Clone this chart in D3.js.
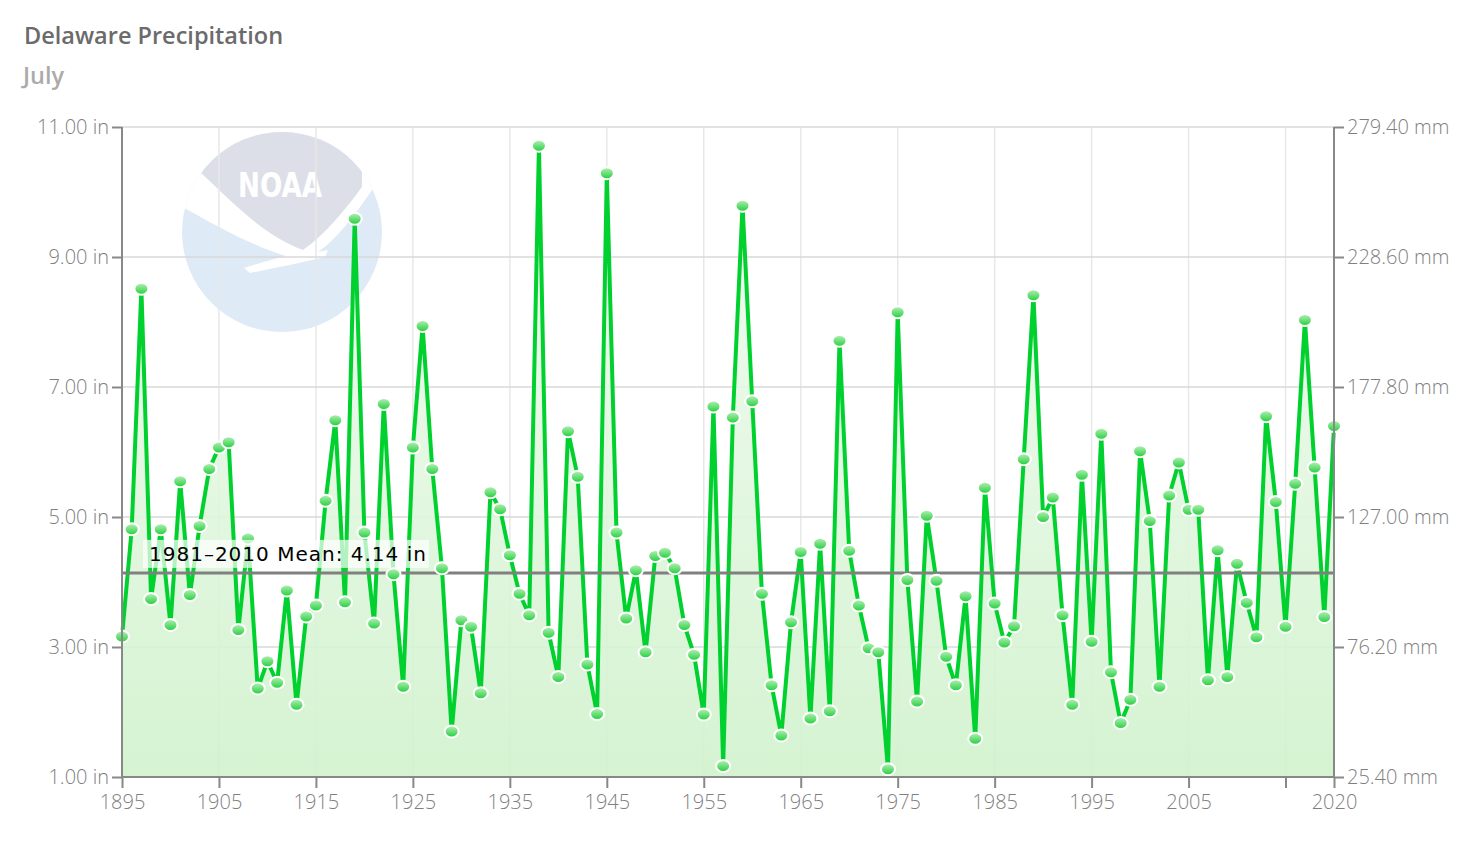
<!DOCTYPE html>
<html>
<head>
<meta charset="utf-8">
<script src="https://cdn.jsdelivr.net/npm/d3@7"></script>
<style>
  body { margin: 0; background: #fff; }
  svg { display: block; }
</style>
</head>
<body>
<div id="chart"></div>
<script>
// --- Delaware Precipitation, July ---
const firstYear = 1895;
const precip = [
    3.16, 4.81, 8.51, 3.74, 4.81, 3.34, 5.55, 3.80, 4.86, 5.74,
    6.07, 6.15, 3.26, 4.67, 2.36, 2.78, 2.45, 3.87, 2.11, 3.47,
    3.64, 5.25, 6.49, 3.69, 9.59, 4.76, 3.36, 6.74, 4.12, 2.39,
    6.07, 7.94, 5.74, 4.21, 1.70, 3.41, 3.31, 2.29, 5.38, 5.12,
    4.41, 3.82, 3.49, 10.71, 3.22, 2.54, 6.32, 5.62, 2.73, 1.97,
    10.29, 4.76, 3.44, 4.18, 2.92, 4.40, 4.45, 4.21, 3.34, 2.88,
    1.96, 6.70, 1.17, 6.53, 9.79, 6.78, 3.82, 2.41, 1.64, 3.38,
    4.46, 1.90, 4.59, 2.01, 7.71, 4.48, 3.64, 2.98, 2.92, 1.12,
    8.15, 4.03, 2.16, 5.02, 4.02, 2.85, 2.41, 3.78, 1.59, 5.45,
    3.67, 3.07, 3.32, 5.89, 8.41, 5.00, 5.30, 3.49, 2.11, 5.65,
    3.08, 6.28, 2.61, 1.83, 2.19, 6.01, 4.94, 2.39, 5.33, 5.84,
    5.11, 5.11, 2.49, 4.49, 2.54, 4.28, 3.68, 3.15, 6.55, 5.23,
    3.31, 5.51, 8.03, 5.76, 3.46, 6.40
];
const meanValue = 4.14;
const meanLabel = "1981\u20132010 Mean: 4.14 in";
const yTicks = [1, 3, 5, 7, 9, 11];
const xTicks = [1895, 1905, 1915, 1925, 1935, 1945, 1955, 1965, 1975, 1985, 1995, 2005, 2015, 2020];
const xTickLabels = ["1895", "1905", "1915", "1925", "1935", "1945", "1955", "1965", "1975", "1985", "1995", "2005", "", "2020"];
const mmPerInch = 25.4;

const data = precip.map((v, i) => ({ year: firstYear + i, value: v }));

const margin = { top: 127, right: 146, bottom: 85, left: 122 },
    fullW = 1480, fullH = 862,
    width = fullW - margin.left - margin.right,
    height = fullH - margin.top - margin.bottom;

const svg = d3.select("#chart")
    .append("svg")
    .attr("width", fullW)
    .attr("height", fullH);

const defs = svg.append("defs");

const areaGrad = defs.append("linearGradient")
    .attr("id", "areaGrad")
    .attr("gradientUnits", "userSpaceOnUse")
    .attr("x1", 0).attr("y1", 0).attr("x2", 0).attr("y2", height);
areaGrad.append("stop").attr("offset", "0%").attr("stop-color", "#f4fcf4");
areaGrad.append("stop").attr("offset", "100%").attr("stop-color", "#d0f2cc");

const dotGrad = defs.append("linearGradient")
    .attr("id", "dotGrad")
    .attr("x1", 0).attr("y1", 0).attr("x2", 0).attr("y2", 1);
dotGrad.append("stop").attr("offset", "0%").attr("stop-color", "#b8f0b8");
dotGrad.append("stop").attr("offset", "100%").attr("stop-color", "#1fcf3a");

defs.append("clipPath").attr("id", "logoClip")
    .append("circle").attr("cx", 282).attr("cy", 232).attr("r", 100);

// titles
svg.append("text")
    .attr("x", 24).attr("y", 44)
    .attr("font-family", "Open Sans")
    .attr("font-weight", 600)
    .attr("font-size", 23.5)
    .attr("fill", "#6b6b6b")
    .text("Delaware Precipitation");

svg.append("text")
    .attr("x", 23).attr("y", 84)
    .attr("font-family", "Open Sans")
    .attr("font-weight", 600)
    .attr("font-size", 23.5)
    .attr("fill", "#ababab")
    .text("July");

// NOAA watermark
const logo = svg.append("g");
logo.append("circle").attr("cx", 282).attr("cy", 232).attr("r", 100).attr("fill", "#deebf7");
const logoInner = logo.append("g").attr("clip-path", "url(#logoClip)");
logoInner.append("path")
    .attr("fill", "#dddfe8")
    .attr("d", "M170,120 H400 V165 H362 V187 C345,210 325,235 303,250 C262,235 228,198 200,172 H170 Z");
logoInner.append("path")
    .attr("fill", "#ffffff")
    .attr("d", "M170,172 H200 C228,198 262,235 303,250 C325,235 345,210 362,187 V165 H400 V190 H372 C355,215 336,240 318,252 L328,250 L325,257 C300,263 275,268 250,273 L244,268 C262,262 275,259 286,256 C250,245 215,225 170,200 Z");
logo.append("text")
    .attr("x", 280).attr("y", 197)
    .attr("text-anchor", "middle")
    .attr("font-family", "DejaVu Sans Condensed")
    .attr("font-weight", "bold")
    .attr("font-size", 34)
    .attr("textLength", 84)
    .attr("lengthAdjust", "spacingAndGlyphs")
    .attr("fill", "#ffffff")
    .text("NOAA");

const g = svg.append("g")
    .attr("transform", `translate(${margin.left},${margin.top})`);

const x = d3.scaleLinear().domain([1895, 2020]).range([0, width]);
const y = d3.scaleLinear().domain([1, 11]).range([height, 0]);
const yMm = d3.scaleLinear().domain([1 * mmPerInch, 11 * mmPerInch]).range([height, 0]);

// grid
g.append("g")
    .selectAll("line")
    .data(xTicks)
    .join("line")
    .attr("x1", d => x(d)).attr("x2", d => x(d))
    .attr("y1", 0).attr("y2", height)
    .attr("stroke", "#e8e8e8")
    .attr("stroke-width", 1.5);

g.append("g")
    .selectAll("line")
    .data(yTicks)
    .join("line")
    .attr("x1", 0).attr("x2", width)
    .attr("y1", d => y(d)).attr("y2", d => y(d))
    .attr("stroke", "#d9d9d9")
    .attr("stroke-width", 1.5);

// area + line
g.append("path")
    .datum(data)
    .attr("fill", "url(#areaGrad)")
    .attr("opacity", 0.9)
    .attr("d", d3.area()
        .x(d => x(d.year))
        .y0(height)
        .y1(d => y(d.value)));

g.append("path")
    .datum(data)
    .attr("fill", "none")
    .attr("stroke", "#00d12f")
    .attr("stroke-width", 4)
    .attr("stroke-linejoin", "miter")
    .attr("d", d3.line()
        .x(d => x(d.year))
        .y(d => y(d.value)));

// mean line
g.append("line")
    .attr("x1", 0).attr("x2", width)
    .attr("y1", y(meanValue)).attr("y2", y(meanValue))
    .attr("stroke", "#808080")
    .attr("stroke-width", 3);

// points
g.selectAll(".dot")
    .data(data)
    .join("ellipse")
    .attr("class", "dot")
    .attr("cx", d => x(d.year))
    .attr("cy", d => y(d.value))
    .attr("rx", 7)
    .attr("ry", 6)
    .attr("fill", "url(#dotGrad)")
    .attr("stroke", "#ffffff")
    .attr("stroke-width", 2);

// mean label
const labelG = g.append("g");
const labelText = labelG.append("text")
    .attr("x", 27)
    .attr("y", y(meanValue) - 12)
    .attr("font-family", "DejaVu Sans")
    .attr("font-size", 20)
    .attr("letter-spacing", 1)
    .attr("fill", "#000")
    .text(meanLabel);
const bb = labelText.node().getBBox();
labelG.insert("rect", "text")
    .attr("x", bb.x - 6).attr("y", bb.y - 2)
    .attr("width", bb.width + 8).attr("height", bb.height + 4)
    .attr("fill", "#ffffff")
    .attr("opacity", 0.7);

// axes
const axisColor = "#888";
const labelColor = "#7f7f7f";

const xAxis = g.append("g")
    .attr("transform", `translate(0,${height})`)
    .call(d3.axisBottom(x).tickValues(xTicks).tickSize(11).tickPadding(7)
        .tickFormat((d, i) => xTickLabels[i]));

const yAxis = g.append("g")
    .call(d3.axisLeft(y).tickValues(yTicks).tickSize(10).tickPadding(3)
        .tickFormat(d => d3.format(".2f")(d) + " in"));

const yAxisR = g.append("g")
    .attr("transform", `translate(${width},0)`)
    .call(d3.axisRight(yMm).tickValues(yTicks.map(d => d * mmPerInch)).tickSize(10).tickPadding(3)
        .tickFormat(d => d3.format(".2f")(d) + " mm"));

[xAxis, yAxis, yAxisR].forEach(a => {
    a.select(".domain").attr("stroke", axisColor).attr("stroke-width", 2);
    a.selectAll(".tick line").attr("stroke", axisColor).attr("stroke-width", 2);
    a.selectAll(".tick text")
        .attr("fill", labelColor)
        .attr("font-family", "Open Sans")
        .attr("font-weight", 300)
        .attr("font-size", 20);
});
yAxis.select(".domain").attr("d", `M0,${height}V0`);
yAxisR.select(".domain").attr("d", `M0,${height}V0`);
xAxis.select(".domain").attr("d", `M0,0H${width}`);
</script>
</body>
</html>
